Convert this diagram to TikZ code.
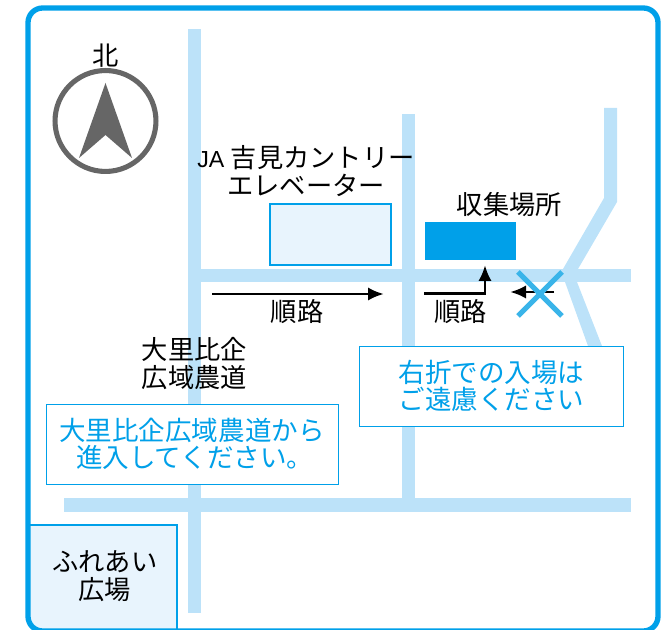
\documentclass[tikz,border=0pt]{standalone}
\usepackage{fontspec}
\setmainfont{Liberation Sans}
\newfontfamily\jp{Noto Sans CJK JP}
\usetikzlibrary{arrows.meta}
\definecolor{brandc}{HTML}{00A0E9}
\definecolor{roadc}{HTML}{BCE2F9}
\definecolor{palec}{HTML}{E8F4FD}
\definecolor{grayc}{HTML}{666666}
\definecolor{crossc}{HTML}{3AB4E9}
\tikzset{
  roadfill/.style={fill=roadc,draw=none},
  jptext/.style={font=\jp\fontsize{19.7pt}{21pt}\selectfont,align=center,text=black,inner sep=0pt},
  bluetext/.style={jptext,font=\jp\fontsize{19.9pt}{20pt}\selectfont,text=brandc},
  notebox/.style={draw=brandc,line width=0.6pt,fill=white,minimum width=219pt,minimum height=60pt,inner sep=0pt},
  routeline/.style={line width=2.2pt,draw=black,-{Latex[length=12pt,width=10pt]}}
}
\begin{document}
\begin{tikzpicture}[x=0.75pt,y=-0.75pt]
\useasboundingbox (0,0) rectangle (672,630);
% roads
\fill[roadfill] (188,29) rectangle (201,613);
\fill[roadfill] (402,114) rectangle (415,500);
\fill[roadfill] (188,269) rectangle (631,282);
\fill[roadfill] (64,498) rectangle (631,512);
\fill[roadfill] (604,108) -- (617,108) -- (617,202) -- (578,269) -- (563,269) -- (604,198) -- cycle;
\fill[roadfill] (565,282) -- (577,282) -- (602,346) -- (588,346) -- cycle;
% frame and plaza
\begin{scope}
\clip[rounded corners=11pt] (28,8) rectangle (658,631);
\fill[palec] (28,525) rectangle (177,640);
\draw[brandc,line width=2pt] (28,525) -- (177,525) -- (177,640);
\end{scope}
\draw[brandc,line width=4pt,rounded corners=11pt] (28,8) rectangle (658,631);
% buildings
\node[draw=brandc,fill=palec,line width=1.8pt,minimum width=91pt,minimum height=46pt,inner sep=0pt] (ja) at (330.5,234.5) {};
\node[fill=brandc,minimum width=68pt,minimum height=28.5pt,inner sep=0pt] (site) at (470.5,241) {};
% compass
\node[draw=grayc,line width=3.8pt,circle,minimum size=75.7pt,inner sep=0pt] (compass) at (105.5,121) {};
\fill[grayc] (105.5,83) -- (132,158) -- (105.5,135) -- (79,158) -- cycle;
% routes
\coordinate (r1s) at (212,294);
\coordinate (r1e) at (384,294);
\draw[routeline] (r1s) -- (r1e);
\coordinate (r2s) at (424,293.5);
\coordinate (r2m) at (485,293.5);
\coordinate (r2e) at (485,265);
\draw[routeline] (r2s) -- (r2m) -- (r2e);
\coordinate (r3s) at (554,292);
\coordinate (r3e) at (510,292);
\draw[routeline] (r3s) -- (r3e);
% cross
\draw[crossc,line width=3.8pt] (518,272) -- (562,316);
\draw[crossc,line width=3.8pt] (562,272) -- (518,316);
% notes
\node[notebox] (n1) at (192,444) {};
\node[notebox,minimum width=198.5pt] (n2) at (491.5,386) {};
\node[bluetext] at (n1.center) {大里比企広域農道から\\\hspace*{4pt}進入してください。};
\node[bluetext] at (n2.center) {右折での入場は\\ご遠慮ください};
% labels
\node[jptext] at (105.5,56) {北};
\node[jptext] at (306,171) {{\rmfamily\fontsize{17.4pt}{21pt}\selectfont JA }吉見カントリー\\エレベーター};
\node[jptext] at (509.5,205) {収集場所};
\node[jptext] at (297,312) {順路};
\node[jptext] at (460.5,312) {順路};
\node[jptext] at (194.5,364) {大里比企\\広域農道};
\node[jptext] at (105,576) {ふれあい\\広場};
\end{tikzpicture}
\end{document}
